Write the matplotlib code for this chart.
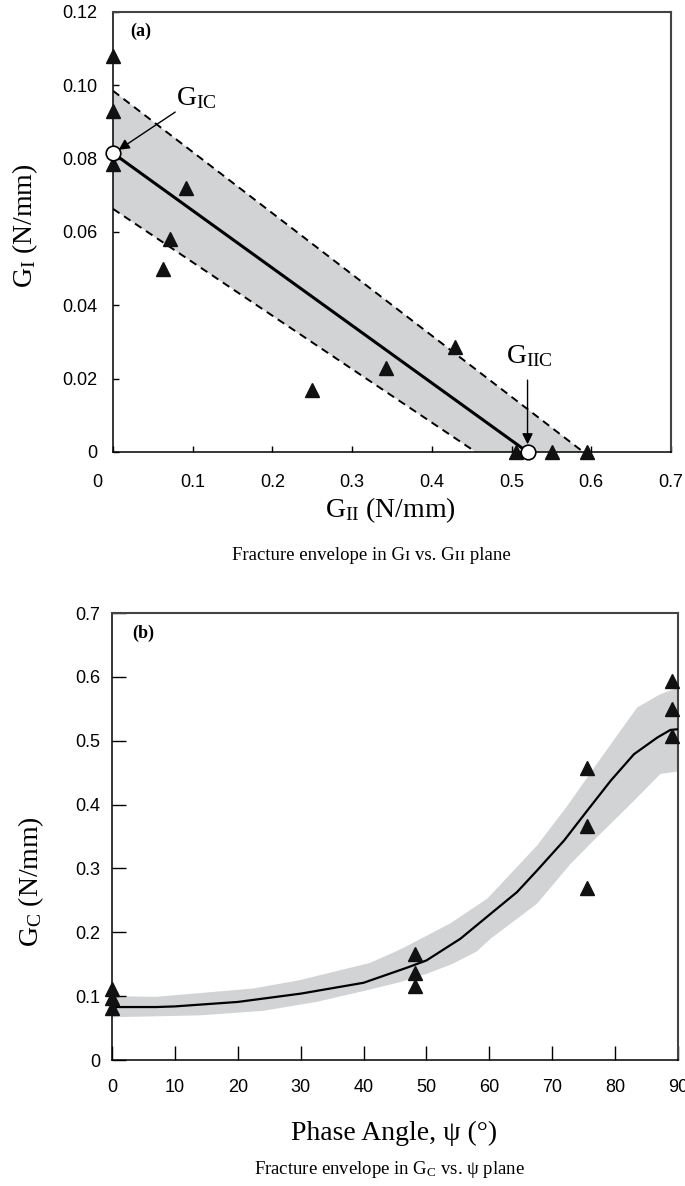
import numpy as np
import matplotlib
matplotlib.use("Agg")
import matplotlib.pyplot as plt
from matplotlib.transforms import ScaledTranslation

plt.rcParams['font.family'] = ['Liberation Sans', 'DejaVu Sans']
plt.rcParams['mathtext.fontset'] = 'custom'
plt.rcParams['mathtext.rm'] = 'Liberation Serif'
plt.rcParams['mathtext.it'] = 'Liberation Serif:italic'

SERIF = ['Liberation Serif', 'DejaVu Serif']
GREY = '#d1d3d4'

# --- panel (a): G_I vs G_II ---
gii_pts = [0, 0, 0, 0.091, 0.072, 0.063, 0.25, 0.342, 0.429, 0.505, 0.551, 0.594]
gi_pts = [0.108, 0.093, 0.0785, 0.072, 0.058, 0.050, 0.017, 0.023, 0.0286, 0, 0, 0]
gic = 0.0815
giic = 0.52
upper_a = [0.0985, 0.59]   # intercepts (G_I at G_II=0, G_II at G_I=0)
lower_a = [0.0663, 0.455]
xticks_a = [0, 0.1, 0.2, 0.3, 0.4, 0.5, 0.6, 0.7]
xlabels_a = ["0", "0.1", "0.2", "0.3", "0.4", "0.5", "0.6", "0.7"]
yticks_a = [0, 0.02, 0.04, 0.06, 0.08, 0.10, 0.12]
ylabels_a = ["0", "0.02", "0.04", "0.06", "0.08", "0.10", "0.12"]

# --- panel (b): G_C vs phase angle ---
psi_pts = [0, 0, 0, 48.2, 48.2, 48.2, 75.6, 75.6, 75.6, 89, 89, 89]
gc_pts = [0.112, 0.097, 0.081, 0.166, 0.136, 0.116, 0.458, 0.367, 0.270, 0.594, 0.550, 0.508]
psi_curve = [0, 7, 10, 20, 30, 40, 47, 50, 55.4, 60.2, 64.4, 67.6, 71.9, 75.6, 79.3, 83.0, 86.7, 88.8, 90]
gc_curve = [0.083, 0.083, 0.084, 0.091, 0.104, 0.121, 0.145, 0.156, 0.190, 0.229, 0.263, 0.297,
            0.344, 0.391, 0.4375, 0.479, 0.505, 0.517, 0.518]
psi_up = [0, 7, 22.4, 29.8, 41, 45.8, 53.8, 59.7, 67.6, 72.4, 77.1, 83.5, 87.2, 90]
gc_up = [0.100, 0.099, 0.112, 0.125, 0.152, 0.173, 0.214, 0.253, 0.336, 0.398, 0.464, 0.552, 0.573, 0.583]
psi_lo = [0, 14, 24, 32.5, 40.4, 45.8, 50, 54, 58, 60.2, 67.6, 72.9, 76.6, 83, 87.2, 90]
gc_lo = [0.067, 0.070, 0.077, 0.091, 0.109, 0.122, 0.135, 0.150, 0.170, 0.190, 0.245, 0.307,
         0.344, 0.406, 0.448, 0.452]
xticks_b = [0, 10, 20, 30, 40, 50, 60, 70, 80, 90]
yticks_b = [0, 0.1, 0.2, 0.3, 0.4, 0.5, 0.6, 0.7]
ylabels_b = ["0", "0.1", "0.2", "0.3", "0.4", "0.5", "0.6", "0.7"]

fig = plt.figure(figsize=(6.85, 11.86), dpi=100)
ax1 = fig.add_axes([0.165, 0.6189, 0.8146, 0.3710])
ax2 = fig.add_axes([0.1635, 0.1062, 0.8263, 0.3769])

for ax in (ax1, ax2):
    for s in ('left', 'bottom'):
        ax.spines[s].set_color('black')
        ax.spines[s].set_linewidth(1.1)
    for s in ('top', 'right'):
        ax.spines[s].set_color('#444444')
        ax.spines[s].set_linewidth(1.5)

# panel (a)
ax1.fill([0, upper_a[1], lower_a[1], 0], [upper_a[0], 0, 0, lower_a[0]],
         color=GREY, lw=0, zorder=1)
ax1.plot([0, upper_a[1]], [upper_a[0], 0], color='black', lw=1.4,
         linestyle=(0, (4, 2.8)), zorder=2)
ax1.plot([0, lower_a[1]], [lower_a[0], 0], color='black', lw=1.4,
         linestyle=(0, (4, 2.8)), zorder=2)
ax1.plot([0, giic], [gic, 0], color='black', lw=2.2, zorder=3)
ax1.plot(gii_pts, gi_pts, linestyle='none', marker='^', ms=9.5, color='#111111',
         zorder=4, clip_on=False)
ax1.plot([0, giic], [gic, 0], linestyle='none', marker='o', ms=10.5, mfc='white',
         mec='black', mew=1.2, zorder=5, clip_on=False)

ax1.annotate('', xy=(0.007, 0.0824), xytext=(0.078, 0.0927),
             arrowprops=dict(arrowstyle='-|>', color='black', lw=1.0, mutation_scale=16,
                             shrinkA=0, shrinkB=0), zorder=6)
ax1.text(0.105, 0.0965, r'G$_{\mathrm{IC}}$', fontsize=20, family=SERIF, ha='center', va='center')
ax1.annotate('', xy=(giic, 0.0021), xytext=(giic, 0.0196),
             arrowprops=dict(arrowstyle='-|>', color='black', lw=1.0, mutation_scale=16,
                             shrinkA=0, shrinkB=0), zorder=6)
ax1.text(giic + 0.002, 0.0262, r'G$_{\mathrm{IIC}}$', fontsize=20, family=SERIF,
         ha='center', va='center')
ax1.text(0.05, 0.955, '(a)', transform=ax1.transAxes, fontsize=13, fontweight='bold',
         family=SERIF, ha='center', va='center')

ax1.set_xlim(0, 0.7)
ax1.set_ylim(0, 0.12)
ax1.set_xticks(xticks_a)
ax1.set_xticklabels(xlabels_a)
ax1.set_yticks(yticks_a)
ax1.set_yticklabels(ylabels_a)
ax1.tick_params(axis='both', direction='in', length=4.3, width=1.0, labelsize=13,
                top=False, right=False)
ax1.tick_params(axis='x', pad=16)
ax1.tick_params(axis='y', pad=11)
lab0 = ax1.get_xticklabels()[0]
lab0.set_transform(lab0.get_transform() + ScaledTranslation(-0.16, 0, fig.dpi_scale_trans))

# panel (b)
ax2.fill(np.concatenate([psi_up, psi_lo[::-1]]), np.concatenate([gc_up, gc_lo[::-1]]),
         color=GREY, lw=0, zorder=1)
ax2.plot(psi_curve, gc_curve, color='black', lw=1.6, zorder=3)
ax2.plot(psi_pts, gc_pts, linestyle='none', marker='^', ms=9.5, color='#111111',
         zorder=4, clip_on=False)
ax2.text(0.055, 0.955, '(b)', transform=ax2.transAxes, fontsize=13, fontweight='bold',
         family=SERIF, ha='center', va='center')

ax2.set_xlim(0, 90)
ax2.set_ylim(0, 0.7)
ax2.set_xticks(xticks_b)
ax2.set_yticks(yticks_b)
ax2.set_yticklabels(ylabels_b)
ax2.tick_params(axis='both', direction='in', length=10, width=1.0, labelsize=13,
                top=False, right=False)
ax2.tick_params(axis='x', pad=14)
ax2.tick_params(axis='y', pad=8.5)

# axis titles and captions
W, H = 685.0, 1186.0
fig.text(390 / W, 1 - 510 / H, r'G$_{\mathrm{II}}$ (N/mm)', fontsize=20, family=SERIF,
         ha='center', va='center')
fig.text(25 / W, 1 - 226 / H, r'G$_{\mathrm{I}}$ (N/mm)', fontsize=20, family=SERIF,
         ha='center', va='center', rotation=90)
fig.text(371 / W, 1 - 555 / H, 'Fracture envelope in G\u026a vs. G\u026a\u026a plane',
         fontsize=13.5, family=SERIF, ha='center', va='center')
fig.text(31 / W, 1 - 882 / H, r'G$_{\mathrm{C}}$ (N/mm)', fontsize=20, family=SERIF,
         ha='center', va='center', rotation=90)
fig.text(394 / W, 1 - 1133 / H, 'Phase Angle, \u03c8 (\u00b0)', fontsize=20, family=SERIF,
         ha='center', va='center')
fig.text(389 / W, 1 - 1170 / H, 'Fracture envelope in G$_{\\mathrm{C}}$ vs. \u03c8 plane',
         fontsize=13.5, family=SERIF, ha='center', va='center')

fig.savefig('out.png', dpi=100)
